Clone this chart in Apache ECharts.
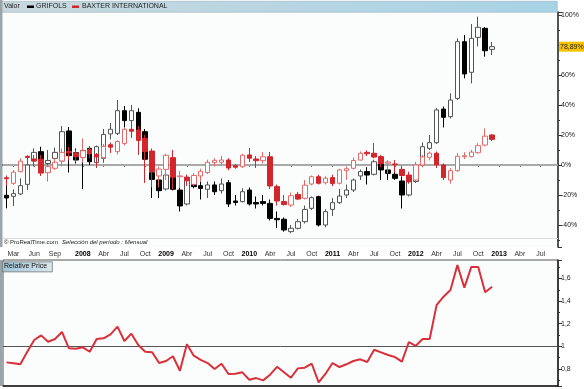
<!DOCTYPE html>
<html>
<head>
<meta charset="utf-8">
<script src="https://cdn.jsdelivr.net/npm/echarts@6/dist/echarts.min.js"></script>
<style>
html,body{margin:0;padding:0;background:#ffffff;}
#chart{width:584px;height:389px;}
</style>
</head>
<body>
<div id="chart"></div>
<script>
// Monthly categories (Feb 2007 .. Sep 2013)
const categories = [
'2007-02','2007-03','2007-04','2007-05','2007-06','2007-07','2007-08','2007-09','2007-10','2007-11','2007-12',
'2008-01','2008-02','2008-03','2008-04','2008-05','2008-06','2008-07','2008-08','2008-09','2008-10','2008-11','2008-12',
'2009-01','2009-02','2009-03','2009-04','2009-05','2009-06','2009-07','2009-08','2009-09','2009-10','2009-11','2009-12',
'2010-01','2010-02','2010-03','2010-04','2010-05','2010-06','2010-07','2010-08','2010-09','2010-10','2010-11','2010-12',
'2011-01','2011-02','2011-03','2011-04','2011-05','2011-06','2011-07','2011-08','2011-09','2011-10','2011-11','2011-12',
'2012-01','2012-02','2012-03','2012-04','2012-05','2012-06','2012-07','2012-08','2012-09','2012-10','2012-11','2012-12',
'2013-01','2013-02','2013-03','2013-04','2013-05','2013-06','2013-07','2013-08','2013-09'
];

// X tick labels
const xTickLabels = {
'2007-03':'Mar','2007-06':'Jun','2007-09':'Sep',
'2008-01':'2008','2008-04':'Abr','2008-07':'Jul','2008-10':'Oct',
'2009-01':'2009','2009-04':'Abr','2009-07':'Jul','2009-10':'Oct',
'2010-01':'2010','2010-04':'Abr','2010-07':'Jul','2010-10':'Oct',
'2011-01':'2011','2011-04':'Abr','2011-07':'Jul','2011-10':'Oct',
'2012-01':'2012','2012-04':'Abr','2012-07':'Jul','2012-10':'Oct',
'2013-01':'2013','2013-04':'Abr','2013-07':'Jul'
};

// GRIFOLS monthly candles, % change: [open, close, low, high]
const grifols = [
[-20.2,-22,-28.9,-14],[-20.9,-19.1,-27.3,-16.2],[-19.3,-13.8,-20,-8.9],[-12.9,0,-16.7,3.3],[2.7,8.4,0,11.1],
[8.9,3.8,2.2,12.2],[1,3,-1.5,10],[4.4,8.4,1.6,11.6],[2.7,22.2,1.6,26],[22.7,6.2,-5,25.3],[8.2,3.3,1,11],
[9.5,8.5,-16,14],[11.1,2.2,0,12.5],[1.6,12.2,-2,13],[4.4,20.4,1.5,24],[20.7,23.8,17,28],[21.1,36.2,20,43.3],
[36.2,29.6,25,39.3],[29.6,36.2,26,40],[35.1,17.8,7,37.8],[22.2,3.8,1,24],[-5.1,-9.6,-22,-1],[-10,-17.1,-22,-7],
[-16,-6.7,-17,-5],[-8.2,-16.2,-17,-6],[-16.7,-27.3,-31,-15],[-26,-8.2,-27,-6.5],[-12.9,-14.4,-15.5,-11],
[-13.8,-15.6,-23,-11],[-16.2,-13.3,-22,-11],[-13.3,-17.8,-20,-11],[-17.1,-12.7,-19,-9],[-11.8,-26,-28,-10],
[-24,-25,-27,-20],[-24.4,-17.8,-25,-15.5],[-16.7,-26,-27,-15],[-25,-26,-29,-21],[-24.4,-25.6,-27,-20],
[-25.6,-35.6,-37,-23],[-35.6,-36.5,-42,-31],[-36.2,-43.3,-44.4,-35],[-44.4,-42.2,-45.6,-40],[-42.2,-37.8,-43,-36],
[-37.8,-29.6,-39,-27],[-28.9,-21.8,-30,-21],[-21.1,-40,-41,-20.5],[-40,-31.1,-41.5,-29.5],[-29.6,-25.1,-34,-22],
[-25.1,-20.7,-26,-16],[-20,-16.7,-22,-13],[-16.7,-10,-18,-9],[-7.3,-4.4,-10,-3],[-4.4,-6.7,-13,-1.5],
[-6.2,2.2,-7,3.5],[0.7,-3.3,-10,3],[-3.3,-5.6,-10,-0.5],[-6.2,-8.9,-10,-3.5],[-10.7,-20,-29,-8],
[-20,-11.1,-21,-10],[-11,-0.5,-12,2],[0,12.2,-1.5,15],[11.1,14.9,10,20],[14.9,36.7,14,38],[37.3,31.8,25,39],
[32.2,43.3,31,47.8],[44.4,82.2,43.3,84.4],[82.2,60.7,57.8,86.7],[61.8,84.4,54.4,94],[85.1,91.8,79,98.9],
[91.1,76.2,72.2,92],[77.1,78.89,73.3,82]
];

// BAXTER INTERNATIONAL monthly candles, % change: [open, close, low, high]
const baxter = [
[-8.5,-9.1,-14,-7],[-12.2,-4.8,-13.3,-3.3],[-4.4,2.5,-5,4.4],[5.8,5,0,6.5],[4,2.7,-1,6.7],
[3.8,-5.4,-7.3,6.7],[-5.1,-1.1,-11.1,0],[-2.2,1.8,-3.3,4.4],[2.7,8.4,-1,11],[9,8.1,3,12],[8,5.5,2,10],
[5,9.5,1.5,17.8],[10.4,7.4,4.5,12.5],[7,5.4,-1.5,8],[4.9,12.4,4,14],[13.5,11.9,8,15],[8.9,15.6,7,16.5],
[14.4,23.8,13,25],[23.8,22.5,18,28],[23.3,16.4,7,26],[17.8,9,-12,20],[9.3,-4.5,-15,11],[-7.3,-2.7,-15,-1],
[-2.9,6.5,-10,7.5],[4.9,-8.1,-16,10],[-7.8,-7.3,-15,-4],[-8.2,-10.5,-14,-6.5],[-12.9,-7,-14,-5.5],
[-7.3,-4.2,-11,-2.5],[-5.1,1.8,-6,3.5],[1.6,3.1,-1,4.5],[1.8,3.3,0,6],[3.3,-2,-3.5,4.5],
[-0.5,-1.5,-2.5,0.5],[-1.1,6.5,-2,7.5],[6.7,4.5,2,11.3],[4,2.9,-2,6],[2.9,5.5,1,8.7],
[5.5,-14,-16,8.7],[-14.4,-24,-27,-13],[-24.4,-26.4,-27,-20],[-26.7,-20.5,-28,-18.4],[-19.6,-22.7,-23.5,-18],
[-22.2,-13.5,-23,-10],[-12.7,-7.8,-13.5,-7],[-7.8,-12.2,-13,-6.5],[-11.8,-8.8,-13,-7.5],[-8.4,-12.4,-14,-6.5],
[-12.2,-3.3,-13,-2.5],[-3.8,-2.5,-10,-1],[-2.2,3,-3,5],[3.3,7.8,3,9],[8.4,7.5,6,9.7],
[7.8,5.3,4.5,14.7],[5.6,1,-1.5,6.7],[1.2,2,-5.6,3.3],[0.7,0.2,-5,3.3],[-2.9,-7,-8,-0.5],
[-6.7,-11.1,-12.5,-4.5],[-10,0,-11,2],[0,5.4,-1,6.7],[5.1,7.9,3,9],[7.8,0.1,-2,9],[0,-8.4,-10,1],
[-10,-3.8,-12.5,-2],[-3.8,5.8,-4.5,8],[5.5,6.2,4,8.5],[5.6,8.6,5,10],[8.2,12.9,7.5,14.5],
[13.3,19.2,12.5,24.4],[20,17.1,16,20.5]
];

// Relative price (GRIFOLS / BAXTER)
const relativePrice = [
0.858,0.850,0.841,0.952,1.056,1.097,1.041,1.065,1.127,0.982,0.979,
0.991,0.952,1.065,1.071,1.106,1.174,1.047,1.112,1.012,0.952,0.947,0.852,
0.870,0.912,0.784,1.018,0.917,0.881,0.852,0.799,0.846,0.755,0.758,0.770,
0.704,0.719,0.699,0.749,0.819,0.770,0.722,0.805,0.811,0.846,0.681,0.758,
0.852,0.817,0.841,0.870,0.885,0.861,0.970,0.947,0.923,0.905,0.864,1.038,
1.005,1.065,1.065,1.365,1.439,1.498,1.719,1.519,1.702,1.702,1.478,1.527
];

const FONT = 'Liberation Sans, Arial, sans-serif';
const lastGrifols = grifols[grifols.length - 1][1];

function fmtComma(v, dec) {
  return (dec === undefined ? String(v) : v.toFixed(dec)).replace('.', ',');
}

const tickShown = function (idx, val) { return xTickLabels[val] !== undefined; };

const chart = echarts.init(document.getElementById('chart'), null, {renderer: 'canvas'});

const option = {
  animation: false,
  backgroundColor: '#ffffff',
  textStyle: {fontFamily: FONT},
  grid: [
    {left: 3, right: 26, top: 12, height: 235, show: true, backgroundColor: '#fbfcfc', borderWidth: 0},
    {left: 3, right: 26, top: 260, height: 126, show: true, backgroundColor: '#fbfcfc', borderColor: '#555', borderWidth: 1}
  ],
  xAxis: [
    {
      type: 'category', gridIndex: 0, data: categories, boundaryGap: true,
      axisLine: {lineStyle: {color: '#1a1a1a', width: 2}},
      axisTick: {show: true, interval: tickShown, alignWithLabel: true, length: 2, lineStyle: {color: '#666'}},
      axisLabel: {
        interval: tickShown, margin: 4, fontSize: 7, color: '#333', fontFamily: FONT,
        formatter: function (val) {
          const t = xTickLabels[val];
          if (t === undefined) return '';
          return /^\d{4}$/.test(t) ? '{y|' + t + '}' : t;
        },
        rich: {y: {fontWeight: 'bold', color: '#000', fontSize: 7, fontFamily: FONT}}
      },
      splitLine: {show: false}
    },
    {
      type: 'category', gridIndex: 1, data: categories, boundaryGap: true,
      axisLine: {lineStyle: {color: '#1a1a1a', width: 1.5}},
      axisTick: {show: false}, axisLabel: {show: false}, splitLine: {show: false}
    }
  ],
  yAxis: [
    {
      type: 'value', gridIndex: 0, position: 'right', min: -54.67, max: 102, splitNumber: 8,
      axisLine: {show: true, lineStyle: {color: '#1a1a1a', width: 1.5}},
      axisTick: {show: true, length: 4, lineStyle: {color: '#333'}},
      minorTick: {show: true, splitNumber: 2, length: 2, lineStyle: {color: '#333'}},
      splitLine: {show: false},
      axisLabel: {
        fontSize: 7, color: '#222', margin: 3, fontFamily: FONT,
        showMinLabel: false, showMaxLabel: false,
        formatter: function (v) { return v + '%'; }
      }
    },
    {
      type: 'value', gridIndex: 1, position: 'right', min: 0.649, max: 1.764, splitNumber: 5,
      axisLine: {show: true, lineStyle: {color: '#1a1a1a', width: 1.5}},
      axisTick: {show: true, length: 4, lineStyle: {color: '#333'}},
      minorTick: {show: true, splitNumber: 2, length: 2, lineStyle: {color: '#333'}},
      splitLine: {show: false},
      axisLabel: {
        fontSize: 7, color: '#222', margin: 3, fontFamily: FONT,
        showMinLabel: false, showMaxLabel: false,
        formatter: function (v) { return fmtComma(Math.round(v * 10) / 10); }
      }
    }
  ],
  series: [
    {
      name: 'GRIFOLS', type: 'candlestick', xAxisIndex: 0, yAxisIndex: 0,
      data: grifols, barWidth: 5,
      itemStyle: {color: '#ffffff', color0: '#000000', borderColor: '#555555', borderColor0: '#000000', borderWidth: 1},
      markLine: {
        silent: true, symbol: 'none', z: 6,
        lineStyle: {color: 'rgba(0,0,0,0)', width: 1},
        label: {
          show: true, position: 'end', distance: 1,
          formatter: function () { return fmtComma(lastGrifols, 2) + '%'; },
          backgroundColor: '#f7c300', color: '#222', fontSize: 7, padding: [2, 1, 1, 1], fontFamily: FONT
        },
        data: [{yAxis: lastGrifols}]
      }
    },
    {
      name: 'BAXTER INTERNATIONAL', type: 'candlestick', xAxisIndex: 0, yAxisIndex: 0,
      data: baxter, barWidth: 5,
      itemStyle: {color: '#ffffff', color0: '#d3262c', borderColor: '#e56a6a', borderColor0: '#d3262c', borderWidth: 1},
      markLine: {
        silent: true, symbol: 'none', z: 1,
        lineStyle: {color: '#a9a9a9', width: 2, type: 'solid'},
        label: {show: false},
        data: [{yAxis: 0}]
      }
    },
    {
      name: 'Relative Price', type: 'line', xAxisIndex: 1, yAxisIndex: 1,
      data: relativePrice, symbol: 'none', smooth: false,
      lineStyle: {color: '#d8313a', width: 2},
      markLine: {
        silent: true, symbol: 'none', z: 1,
        lineStyle: {color: '#555', width: 1, type: 'solid'},
        label: {show: false},
        data: [{yAxis: 1}]
      }
    }
  ],
  graphic: [
    // header bar
    {type: 'rect', left: 0, top: 1, shape: {width: 557, height: 11}, z: 10,
      style: {fill: new echarts.graphic.LinearGradient(0, 0, 1, 0, [{offset: 0, color: '#c9d8de'}, {offset: 1, color: '#a7d3e6'}]), stroke: '#8aa6b2', lineWidth: 0.5}},
    {type: 'text', left: 4, top: 3, z: 11, style: {text: 'Valor', fontSize: 7, fill: '#222', fontFamily: FONT}},
    {type: 'rect', left: 27, top: 5.5, shape: {width: 7, height: 2.5}, z: 11, style: {fill: '#000'}},
    {type: 'text', left: 36, top: 3, z: 11, style: {text: 'GRIFOLS', fontSize: 7, fill: '#222', fontFamily: FONT}},
    {type: 'rect', left: 72, top: 5.5, shape: {width: 7, height: 2.5}, z: 11, style: {fill: '#d3262c'}},
    {type: 'text', left: 82, top: 3, z: 11, style: {text: 'BAXTER INTERNATIONAL', fontSize: 7, fill: '#222', fontFamily: FONT}},
    // left border strips
    {type: 'rect', left: 0, top: 0, shape: {width: 2.5, height: 247}, z: 10, style: {fill: '#9aa5aa'}},
    {type: 'rect', left: 0, top: 260, shape: {width: 2.5, height: 126}, z: 10, style: {fill: '#9aa5aa'}},
    // separator above copyright
    {type: 'line', shape: {x1: 3, y1: 238.5, x2: 558, y2: 238.5}, z: 3, style: {stroke: '#dcdcdc', lineWidth: 1}},
    {type: 'text', left: 4, top: 239.5, z: 11, style: {text: '\u00a9 ProRealTime.com', fontSize: 6, fill: '#222', fontFamily: FONT}},
    {type: 'text', left: 62, top: 239.5, z: 11, style: {text: 'Selecci\u00f3n del per\u00edodo : Mensual', fontSize: 6, fontStyle: 'italic', fill: '#222', fontFamily: FONT}},
    // Relative price box
    {type: 'rect', left: 2, top: 261.5, shape: {width: 50, height: 10}, z: 10,
      style: {fill: new echarts.graphic.LinearGradient(0, 0, 1, 0, [{offset: 0, color: '#9fc3d3'}, {offset: 1, color: '#d9e7ec'}]), stroke: '#666', lineWidth: 0.7}},
    {type: 'text', left: 4, top: 263, z: 11, style: {text: 'Relative Price', fontSize: 7, fill: '#111', fontFamily: FONT}}
  ]
};

chart.setOption(option);
</script>
</body>
</html>
